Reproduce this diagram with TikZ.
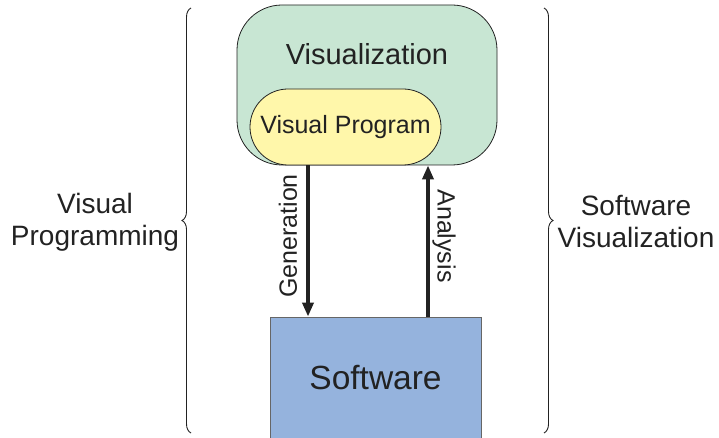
\documentclass[tikz,border=0pt]{standalone}
\usepackage{fontspec}
\setmainfont{Liberation Sans}
\usetikzlibrary{arrows.meta,decorations.pathreplacing,positioning}

\definecolor{vizgreen}{RGB}{200,230,211}
\definecolor{progyellow}{RGB}{255,247,170}
\definecolor{softblue}{RGB}{149,179,221}
\definecolor{ink}{RGB}{34,34,34}

\begin{document}
\begin{tikzpicture}[x=1pt,y=-1pt,>={Triangle[width=11pt,length=14pt]},
      box/.style={draw=ink,line width=0.8pt,inner sep=0pt,text=ink},
      flow/.style={->,line width=4pt,ink},
      brace/.style={decorate,decoration={brace,amplitude=9pt},line width=0.9pt,ink},
      side/.style={align=center,text=ink,font=\fontsize{28}{32}\selectfont}]
  \useasboundingbox (0,0) rectangle (719,438);
  % boxes
  \node[box,fill=vizgreen,minimum width=260pt,minimum height=160pt,
        rounded corners=45pt] (viz) at (367,85) {};
  \node[anchor=base,text=ink,font=\fontsize{29}{34}\selectfont]
        (vizlabel) at ([yshift=-60pt]viz.north) {Visualization};
  \node[box,fill=progyellow,minimum width=191pt,minimum height=76pt,
        rounded corners=38pt,font=\fontsize{25}{30}\selectfont] (vp) at (345.5,127) {Visual Program};
  \node[box,draw=black!60,fill=softblue,minimum width=211pt,minimum height=121pt,
        font=\fontsize{33.5}{40}\selectfont] (sw) at (375.5,377.5) {Software};
  % arrows
  \draw[flow] ([xshift=-67.5pt]sw.north |- vp.south) -- ([xshift=-67.5pt]sw.north);
  \draw[flow] ([xshift=52.5pt]sw.north) -- ([xshift=52.5pt]sw.north |- viz.south);
  \node[rotate=90,text=ink,font=\fontsize{25}{30}\selectfont] (gen) at (288,236) {Generation};
  \node[rotate=-90,text=ink,font=\fontsize{25}{30}\selectfont] (ana) at (444,236) {Analysis};
  % braces
  \draw[brace] (191,433) -- (191,8);
  \draw[brace] (544,8) -- (544,433);
  \node[side] (vprog) at (95,222) {Visual\\Programming};
  \node[side] (svis) at (636,222) {Software\\Visualization};
\end{tikzpicture}
\end{document}
